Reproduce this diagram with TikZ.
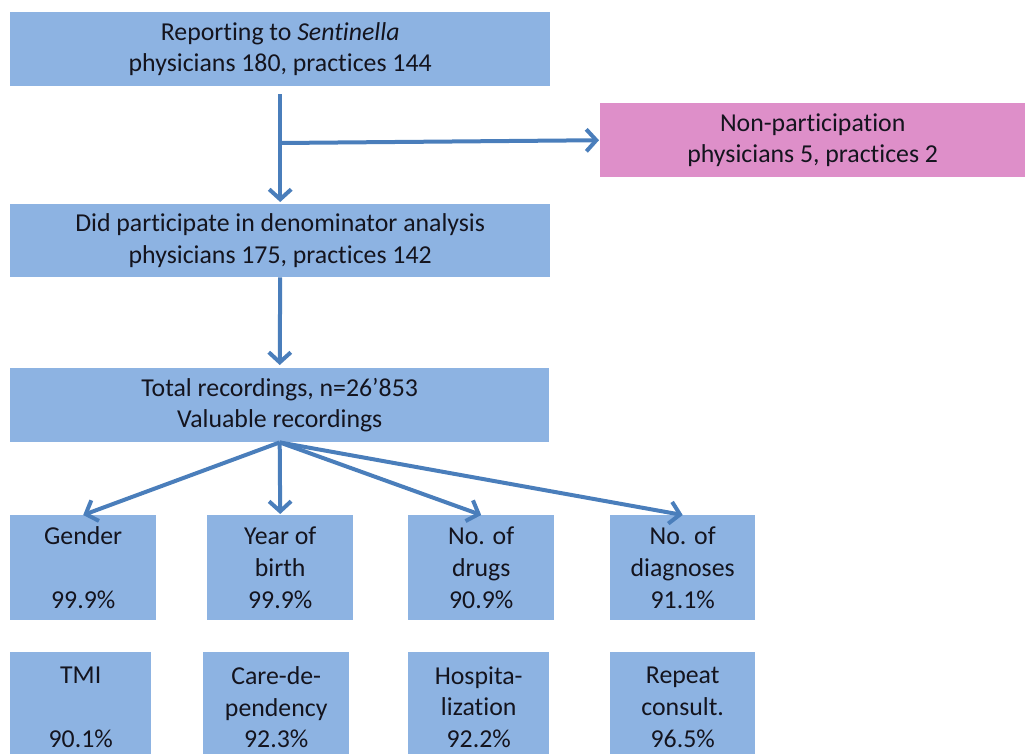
\documentclass[tikz,border=0pt]{standalone}
\usepackage{fontspec}
\setmainfont{Carlito}[Ligatures={NoCommon}]
\usetikzlibrary{arrows.meta}
\definecolor{boxblue}{RGB}{141,179,226}
\definecolor{boxpink}{RGB}{222,143,201}
\definecolor{arrowblue}{RGB}{74,126,187}
\definecolor{txt}{RGB}{20,20,30}
\begin{document}
\begin{tikzpicture}[x=1pt,y=-1pt,
  box/.style={fill=boxblue, draw=none, align=center, text=txt,
    font=\fontsize{25.8}{31.8}\selectfont, inner sep=0pt, anchor=north west},
  pinkbox/.style={box, fill=boxpink},
  conn/.style={draw=arrowblue, line width=4pt,
    -{Straight Barb[length=10pt,width=22pt]}}
]
\useasboundingbox (0,0) rectangle (1025,753);
\clip (0,0) rectangle (1025,753);

\node[box, minimum width=540pt, minimum height=74pt] (top) at (10,12)
  {Reporting to \textit{Sentinella}\\physicians 180, practices 144};
\node[pinkbox, minimum width=425pt, minimum height=74pt] (nonpart) at (600,103)
  {Non-participation\\physicians 5, practices 2};
\node[box, minimum width=540pt, minimum height=73pt] (part) at (10,204)
  {Did participate in denominator analysis\\physicians 175, practices 142};
\node[box, minimum width=539pt, minimum height=74pt] (rec) at (10,368)
  {Total recordings, n=26’853\\Valuable recordings};

\node[box, minimum width=146pt, minimum height=105pt] (gender) at (10,515)
  {Gender\\~\\99.9\%};
\node[box, minimum width=146pt, minimum height=105pt] (year) at (207,515)
  {Year of\\birth\\99.9\%};
\node[box, minimum width=146pt, minimum height=105pt] (drugs) at (408,515)
  {No. of\\drugs\\90.9\%};
\node[box, minimum width=145pt, minimum height=105pt] (diag) at (610,515)
  {No. of\\diagnoses\\91.1\%};

\node[box, minimum width=141pt, minimum height=110pt] (tmi) at (10,652)
  {TMI\\~\\90.1\%};
\node[box, minimum width=146pt, minimum height=110pt] (care) at (203,652)
  {Care-de-\\pendency\\92.3\%};
\node[box, minimum width=141pt, minimum height=110pt] (hosp) at (408,652)
  {Hospita-\\lization\\92.2\%};
\node[box, minimum width=145pt, minimum height=110pt] (repeat) at (610,652)
  {Repeat\\consult.\\96.5\%};

\coordinate (branch) at (top.south |- 0,143);
\draw[conn, shorten <=8pt, shorten >=2pt] (top.south) -- (part.north);
\draw[conn, shorten >=1pt] (branch) -- (nonpart.west);
\draw[conn, shorten >=3pt] (part.south) -- (rec.north);
\draw[conn] (rec.south) -- (gender.north);
\draw[conn, shorten >=1pt] (rec.south) -- (year.north);
\draw[conn] (rec.south) -- (drugs.north);
\draw[conn] (rec.south) -- (diag.north);
\end{tikzpicture}
\end{document}
